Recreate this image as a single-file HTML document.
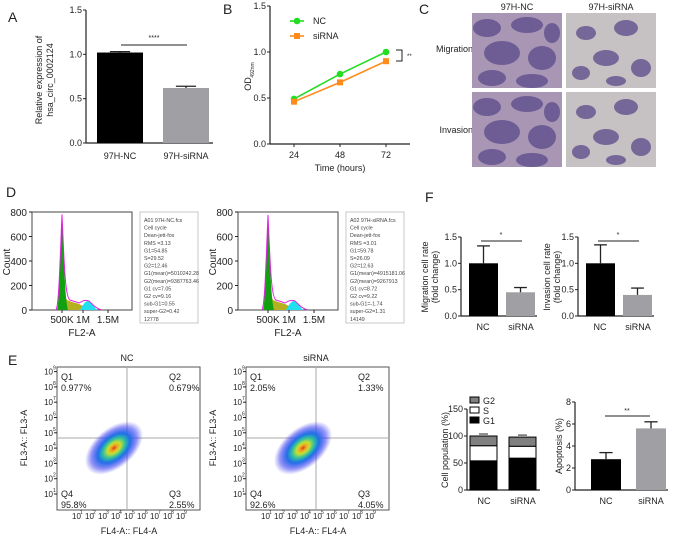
<!DOCTYPE html>
<html><head><meta charset="utf-8"><style>
body{margin:0;background:#fff}
svg{display:block;font-family:"Liberation Sans",Arial,sans-serif}
</style></head><body>
<svg id="fig" width="674" height="538" viewBox="0 0 674 538">
<defs>
<radialGradient id="dens" cx="50%" cy="50%" r="50%">
<stop offset="0" stop-color="#e03020"/><stop offset="0.1" stop-color="#f0a020"/><stop offset="0.22" stop-color="#c8e030"/><stop offset="0.38" stop-color="#30c0a0"/><stop offset="0.55" stop-color="#2070e8"/><stop offset="0.8" stop-color="#3030f0" stop-opacity="0.5"/><stop offset="1" stop-color="#4040f0" stop-opacity="0"/>
</radialGradient>
</defs>
</svg>
<script>
// ---- data ----
const aCats=["97H-NC","97H-siRNA"];
const aVals=[1.02,0.62];
const aErr=[0.01,0.02];
const bTimes=[24,48,72];
const bNC=[0.49,0.76,1.0];
const bSi=[0.46,0.67,0.9];
const fCats=["NC","siRNA"];
const migVals=[1.0,0.45];
const migErr=[0.33,0.09];
const invVals=[1.0,0.4];
const invErr=[0.35,0.13];
const g1Vals=[54,59];
const sVals=[28,22];
const g2Vals=[18,17];
const apoVals=[2.8,5.6];
const apoErr=[0.6,0.6];
const ticks15=["0.0","0.5","1.0","1.5"];
const histTicks=[0,200,400,600,800];
const statsNC=["A01 97H-NC.fcs","Cell cycle","Dean-jett-fox","RMS =3.13","G1=54.85","S=29.52","G2=12.46","G1(mean)=5010242.28","G2(mean)=9387763.46","G1 cv=7.05","G2 cv=9.16","sub-G1=0.55","super-G2=0.42","12778"];
const statsSi=["A02 97H-siRNA.fcs","Cell cycle","Dean-jett-fox","RMS =3.01","G1=59.78","S=26.09","G2=12.63","G1(mean)=4915181.06","G2(mean)=9267913","G1 cv=8.72","G2 cv=9.22","sub-G1=-1.74","super-G2=1.31","14149"];
const quadNC=["0.977%","0.679%","2.55%","95.8%"];
const quadSi=["2.05%","1.33%","4.05%","92.6%"];

const svg=document.getElementById('fig');
const NS="http://www.w3.org/2000/svg";
function mk(tag,at,txt){const e=document.createElementNS(NS,tag);for(const k in at)e.setAttribute(k,at[k]);if(txt!==undefined)e.textContent=txt;svg.appendChild(e);return e;}
function T(x,y,s,sz,anc,extra){const e=mk('text',Object.assign({x:x,y:y,'font-size':sz||9,'text-anchor':anc||'middle',fill:'#222'},extra||{}),s);return e;}
function L(x1,y1,x2,y2,w,c){return mk('line',{x1:x1,y1:y1,x2:x2,y2:y2,stroke:c||'#222','stroke-width':w||1});}

let e;
[["A",8,22],["B",223,14],["C",419,14],["D",6,197],["F",425,202],["E",8,365]].forEach(p=>{e=T(p[1],p[2],p[0],14,'start');

});

function yAxis(x,y0,y1,labels,sz){L(x,y0,x,y1,1.2);labels.forEach((t,i)=>{const y=y0+(y1-y0)*i/(labels.length-1);L(x-3,y,x,y,1);e=T(x-4,y+3,t,sz||9,'end');

});}
function vtitle(x,y,lines,sz,gap){lines.forEach((s,i)=>{e=T(0,0,s,sz||9,'middle',{transform:`translate(${x+i*(gap||(sz||9)*1.1)},${y}) rotate(-90)`});

});}
function bars(vals,errs,xs,w,yf,cols,name){vals.forEach((v,i)=>{const y=yf(v),y0=yf(0);
e=mk('rect',{x:xs[i],y:y,width:w,height:y0-y,fill:cols[i]});


if(errs){const ye=yf(v+errs[i]);const cx=xs[i]+w/2;L(cx,y,cx,ye,1.3);L(cx-w*0.22,ye,cx+w*0.22,ye,1.3);}});}

// ---- A ----
{const yf=v=>143-v*88.7;yAxis(86,143,10,ticks15,9);L(86,143,213,143,1.2);
bars(aVals,aErr,[97,163],46,yf,['#000','#a0a0a4'],'a');
aCats.forEach((c,i)=>{e=T([120,186][i],159,c,9);

});
L(121,45,187,45,1);T(154,40,"****",7);
vtitle(42,80,["Relative expression of","hsa_circ_0002124"],9,11);}

// ---- B ----
{const yf=v=>144-v*92;const xf=t=>294+(t-24)/24*46;
yAxis(270,144,6,ticks15,9);L(270,144,410,144,1.2);
bTimes.forEach(t=>{L(xf(t),144,xf(t),147);e=T(xf(t),158,String(t),9);

});
e=T(340,171,"Time (hours)",9);


e=T(0,0,"OD",9,'middle',{transform:'translate(251,84) rotate(-90)'});


T(0,0,"492nm",5,'middle',{transform:'translate(254,70) rotate(-90)'});
const series=[[bNC,'#22dd22','c'],[bSi,'#ff8c1a','s']];
series.forEach(([d,c,m],si)=>{e=mk('polyline',{points:d.map((v,i)=>xf(bTimes[i])+','+yf(v)).join(' '),fill:'none',stroke:c,'stroke-width':1.6});


d.forEach((v,i)=>{const x=xf(bTimes[i]),y=yf(v);if(m=='c')e=mk('circle',{cx:x,cy:y,r:3.3,fill:c});else e=mk('rect',{x:x-3,y:y-3,width:6,height:6,fill:c});

});});
L(290,21,304,21,1.6,'#22dd22');mk('circle',{cx:297,cy:21,r:3.3,fill:'#22dd22'});T(313,24,"NC",9,'start');
L(290,36,304,36,1.6,'#ff8c1a');mk('rect',{x:294,y:33,width:6,height:6,fill:'#ff8c1a'});T(313,39,"siRNA",9,'start');
mk('polyline',{points:'396,50 402,50 402,61 396,61',fill:'none',stroke:'#222','stroke-width':1});T(407,58,"**",6,'start');}

// ---- C ----
{T(517,10,"97H-NC",9);T(611,10,"97H-siRNA",9);
T(473,52,"Migration",9,'end');T(473,133,"Invasion",9,'end');
const imgs=[[472,13,1],[566,13,0],[472,92,1],[566,92,0]];
imgs.forEach(([x,y,d],k)=>{e=mk('rect',{x:x,y:y,width:90,height:75,fill:d?'#a896b4':'#c6c2c4'});


const blobs=d?[[15,15,14,9],[55,12,16,8],[30,40,18,12],[70,45,14,12],[20,65,14,8],[60,68,16,7],[80,20,8,10]]:[[20,20,10,7],[60,15,12,8],[40,45,13,8],[75,55,10,9],[15,60,9,7],[50,68,10,5]];
blobs.forEach(b=>mk('ellipse',{cx:x+b[0],cy:y+b[1],rx:b[2],ry:b[3],fill:'#5a4a8a',opacity:0.75}));});}

// ---- D ----
function hist(x0,stats,bx,g1){const yf=v=>310-v*98/800;
mk('rect',{x:x0,y:212,width:100,height:98,fill:'none',stroke:'#444','stroke-width':1});
histTicks.forEach(v=>{L(x0-3,yf(v),x0,yf(v));e=T(x0-5,yf(v)+4,String(v),10,'end');

});
[["500K",30],["1M",51],["1.5M",76]].forEach(([s,dx])=>{L(x0+dx,310,x0+dx,313);T(x0+dx,323,s,10);});
e=T(x0+50,336,"FL2-A",10);


vtitle(x0-22,262,["Count"],10);
const p=x0+30;
e=mk('path',{d:`M${x0+31} 310 L${x0+33} 296 L${x0+35} 300 L${x0+40} 302 L${x0+47} 304 L${x0+53} 307 L${x0+55} 310 Z`,fill:'#b4b020'});


e=mk('path',{d:`M${p-5} 310 C${p-3} 305 ${p-2} 260 ${p} ${yf(g1)} C${p+2} 260 ${p+3} 300 ${p+6} 310 Z`,fill:'#10a010'});


e=mk('path',{d:`M${x0+48} 310 C${x0+51} 305 ${x0+53} 301 ${x0+56} 301 C${x0+59} 301 ${x0+61} 306 ${x0+65} 310 Z`,fill:'#20e0f0'});


mk('path',{d:`M${x0+24} 310 C${p-3} 305 ${p-2} 260 ${p} ${yf(g1)} C${p+2} 260 ${p+3} 298 ${p+8} 300 L${x0+47} 303 C${x0+52} 300 ${x0+54} 300 ${x0+57} 301 C${x0+60} 303 ${x0+62} 308 ${x0+70} 310`,fill:'none',stroke:'#e020e0','stroke-width':1});
mk('rect',{x:bx,y:212,width:58,height:111,fill:'#fff',stroke:'#bbb','stroke-width':0.8});
stats.forEach((s,i)=>T(bx+4,222+i*7.6,s,5.3,'start',{fill:'#444'}));}
hist(32,statsNC,140,780);hist(238,statsSi,346,775);

// ---- F ----
function fchart(ax,vals,errs,title,tx){const yf=v=>316-v*52.7;
yAxis(ax,316,237,ticks15,9);L(ax,316,ax+76,316,1.2);
bars(vals,errs,[ax+8,ax+45],29,yf,['#000','#a0a0a4'],'f');
fCats.forEach((c,i)=>T([ax+22,ax+60][i],330,c,9));
L(ax+20,241,ax+61,241,1);T(ax+40,237,"*",7);
vtitle(tx,277,title,9,10);}
fchart(461,migVals,migErr,["Migration cell rate","(fold change)"],428);
fchart(578,invVals,invErr,["Invasion cell rate","(fold change)"],550);

// ---- E ----
function scatter(x0,title,q){const W=143,H=143,y0=367;
e=mk('rect',{x:x0,y:y0,width:W,height:H,fill:'#fff',stroke:'#555','stroke-width':1});


T(x0+70,361,title,9);
L(x0+70,y0,x0+70,y0+H,1,'#aaa');L(x0,438,x0+W,438,1,'#aaa');
mk('ellipse',{cx:x0+57,cy:448,rx:34,ry:20,fill:'url(#dens)',transform:`rotate(-40 ${x0+57} 448)`});
for(let k=1;k<=9;k++){const y=494-(k-1)*15.3;L(x0-3,y,x0,y);T(x0-4,y+3,"10",8,'end');T(x0-4,y-2,String(k),5,'start');
const x=x0+15+(k-1)*13;T(x,519,"10",8,'start');T(x+8,514,String(k),5,'start');}
T(x0+4,380,"Q1",9,'start');T(x0+4,391,q[0],9,'start');
T(x0+112,380,"Q2",9,'start');T(x0+112,391,q[1],9,'start');
T(x0+112,497,"Q3",9,'start');T(x0+112,508,q[2],9,'start');
T(x0+4,497,"Q4",9,'start');T(x0+4,508,q[3],9,'start');
T(x0+72,534,"FL4-A:: FL4-A",9);vtitle(x0-30,438,["FL3-A:: FL3-A"],9);}
scatter(57,"NC",quadNC);scatter(246,"siRNA",quadSi);

// stacked
{const yf=v=>490-v*81/150;yAxis(467,490,409,["0","50","100","150"],9);L(467,490,540,490,1.2);
const xs=[470,509];
xs.forEach((x,i)=>{const parts=[[0,g1Vals[i],'#000'],[g1Vals[i],sVals[i],'#fff'],[g1Vals[i]+sVals[i],g2Vals[i],'#808080']];
parts.forEach(([b,h,c],j)=>{e=mk('rect',{x:x,y:yf(b+h),width:27,height:yf(b)-yf(b+h),fill:c,stroke:'#000','stroke-width':1});


L(x+9,yf(b+h)-2,x+18,yf(b+h)-2,1);});
T(x+14,504,fCats[i],9);});
[["G2",'#808080',401],["S",'#fff',411],["G1",'#000',421]].forEach(([s,c,y])=>{mk('rect',{x:470,y:y-4,width:9,height:6,fill:c,stroke:'#000'});T(483,y+3,s,9,'start');});
vtitle(448,450,["Cell population (%)"],9);}
// apoptosis
{const yf=v=>490-v*11;yAxis(575,490,402,["0","2","4","6","8"],9);L(575,490,668,490,1.2);
bars(apoVals,apoErr,[591,636],30,yf,['#000','#a0a0a4'],'apoptosis');
fCats.forEach((c,i)=>T([606,651][i],504,c,9));
L(605,416,650,416,1);T(627,413,"**",7);
vtitle(562,446,["Apoptosis (%)"],9);}
</script>
</body></html>
